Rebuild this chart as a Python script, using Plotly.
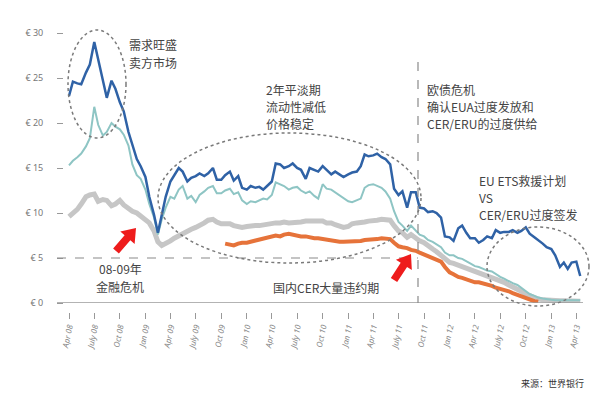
import math
import plotly.graph_objects as go

# ---------------- data ----------------
# semi-monthly observation dates, 2008-04-01 .. 2013-04-15
dates = []
for y in range(2008, 2014):
    for m in range(1, 13):
        if (y == 2008 and m < 4) or (y == 2013 and m > 4):
            continue
        for d in (1, 15):
            dates.append(f"{y}-{m:02d}-{d:02d}")

eua = [23.0, 24.6, 24.4, 24.3, 25.6, 26.5, 29.0, 27.0, 24.5, 22.8, 24.7, 23.8, 22.3, 21.3, 19.0, 17.6, 16.0, 15.2,
       14.0, 11.8, 9.8, 7.8, 10.0, 11.8, 13.5, 14.2, 15.0, 14.6, 13.5, 13.9, 14.1, 14.4, 14.1, 14.4, 15.0, 13.7, 13.7, 14.2, 14.6, 13.6, 14.1, 12.8,
       12.6, 13.0, 12.8, 12.9, 12.6, 13.0, 13.5, 15.5, 15.4, 15.0, 15.2, 15.5, 15.0, 14.8, 13.8, 15.0, 14.8, 14.6, 15.2, 14.8, 14.3, 14.6, 14.3, 14.0,
       14.3, 14.5, 14.6, 15.2, 16.5, 16.3, 16.4, 16.6, 16.2, 16.0, 15.4, 12.7, 12.0, 12.4, 10.6, 12.3, 12.3, 10.6, 10.5, 10.1, 10.2, 10.0, 9.5, 7.4,
       7.3, 6.9, 8.3, 8.6, 7.8, 7.2, 7.2, 6.7, 7.0, 7.4, 7.2, 8.1, 7.8, 7.9, 7.9, 8.1, 7.8, 8.0, 8.4, 7.7, 7.3, 7.0, 6.6, 6.2,
       6.0, 5.3, 4.0, 4.5, 3.8, 4.5, 4.6, 3.0]

scer = [15.3, 15.8, 16.2, 16.6, 17.4, 18.3, 21.8, 19.8, 18.6, 19.0, 20.0, 19.6, 19.3, 18.7, 17.5, 15.4, 14.2, 13.8,
        12.6, 11.0, 9.5, 7.6, 9.3, 10.6, 11.8, 11.6, 12.6, 13.0, 11.6, 11.9, 11.2, 12.0, 12.4, 12.8, 13.0, 12.2, 12.2, 12.5, 12.7, 12.1, 12.3, 11.4,
        11.0, 11.3, 11.2, 11.4, 11.6, 11.5, 12.0, 13.4, 13.2, 13.0, 12.6, 12.8, 12.9, 12.5, 12.2, 12.4, 11.9, 11.6, 13.2, 12.7, 12.6, 12.3, 11.9, 11.7,
        11.3, 11.2, 11.4, 11.6, 12.8, 13.1, 13.2, 13.0, 12.8, 12.4, 11.6, 10.2, 9.0, 8.6, 8.0, 8.6, 8.0, 7.6, 7.4, 7.0, 6.8, 6.5, 6.2, 5.6,
        5.3, 5.3, 5.0, 4.9, 4.6, 4.4, 4.1, 4.0, 3.8, 3.6, 3.5, 3.2, 2.9, 2.7, 2.4, 2.2, 2.0, 1.7, 1.4, 1.0, 0.8, 0.6, 0.5, 0.4,
        0.35, 0.3, 0.3, 0.3, 0.3, 0.25, 0.3, 0.3]

pcer = [9.6, 10.0, 10.4, 11.0, 11.8, 12.0, 12.1, 11.3, 11.5, 11.4, 10.8, 11.0, 11.4, 10.9, 10.5, 10.2, 10.0, 9.6,
        9.2, 8.9, 8.0, 6.8, 6.4, 6.6, 6.9, 7.2, 7.5, 7.7, 8.0, 8.2, 8.4, 8.6, 8.9, 9.2, 9.3, 9.0, 8.8, 8.8, 8.8, 8.6, 8.5, 8.4,
        8.5, 8.6, 8.6, 8.6, 8.7, 8.7, 8.8, 8.9, 8.9, 9.0, 8.9, 8.9, 8.9, 9.0, 9.1, 9.1, 9.2, 9.2, 9.1, 8.9, 8.9, 8.7, 8.6, 8.4,
        8.5, 8.8, 8.9, 8.9, 9.0, 9.1, 9.1, 9.2, 9.3, 9.3, 9.2, 8.6, 8.0, 7.8, 7.3, 7.6, 7.2, 6.9, 6.7, 6.3, 6.0, 5.7, 5.3, 4.8,
        4.5, 4.4, 4.2, 4.1, 3.9, 3.7, 3.5, 3.4, 3.2, 3.0, 2.9, 2.7, 2.5, 2.3, 2.0, 1.8, 1.6, 1.3, 1.0, 0.8, 0.6, 0.45, 0.35, 0.3,
        0.3, 0.28, 0.25, 0.25, 0.22, 0.2, 0.2, 0.2]

# domestic (China) CER series, 2009-10-15 .. 2012-11-15
cn_start = dates.index("2009-10-15")
cn_cer = [6.6, 6.5, 6.4, 6.6, 6.7,
          6.7, 6.8, 6.9, 7.0, 7.1, 7.2, 7.3, 7.5, 7.4, 7.6, 7.7, 7.6, 7.5, 7.4, 7.4, 7.3, 7.2, 7.2, 7.1, 7.1, 7.0, 6.9, 6.8, 6.8,
          6.8, 6.9, 6.9, 6.9, 7.0, 7.0, 7.1, 7.1, 7.2, 7.2, 7.1, 6.7, 6.3, 6.2, 6.1, 5.9, 5.8, 5.6, 5.4, 5.2, 5.0, 4.8, 4.6, 4.0,
          3.4, 3.2, 2.9, 2.8, 2.6, 2.5, 2.3, 2.3, 2.2, 2.0, 1.9, 1.7, 1.6, 1.5, 1.3, 1.1, 0.9, 0.7, 0.5, 0.3, 0.2, 0.15]
cn_dates = dates[cn_start:cn_start + len(cn_cer)]

tick_dates = [f"{y}-{m:02d}-01" for y in range(2008, 2014) for m in (1, 4, 7, 10)
              if "2008-04-01" <= f"{y}-{m:02d}-01" <= "2013-04-01"]
tick_text = [("July" if d[5:7] == "07" else {"01": "Jan", "04": "Apr", "10": "Oct"}[d[5:7]]) + " " + d[2:4]
             for d in tick_dates]
y_ticks = [0, 5, 10, 15, 20, 25, 30]
y_text = [f"€ {v}" for v in y_ticks]

# ---------------- figure ----------------
W, H = 604, 399
L, R, T, B = 64, 21, 33, 87
PW, PH = W - L - R, H - T - B


def px(x):
    return (x - L) / PW


def py(y):
    return (H - B - y) / PH


fig = go.Figure()
fig.add_trace(go.Scatter(x=dates, y=pcer, mode="lines",
                         line=dict(color="#C6C6C6", width=5), hoverinfo="skip"))
fig.add_trace(go.Scatter(x=cn_dates, y=cn_cer, mode="lines",
                         line=dict(color="#E6733A", width=4), hoverinfo="skip"))
fig.add_trace(go.Scatter(x=dates, y=scer, mode="lines",
                         line=dict(color="#8EC5C4", width=2), hoverinfo="skip"))
fig.add_trace(go.Scatter(x=dates, y=eua, mode="lines",
                         line=dict(color="#2F62A6", width=2.5), hoverinfo="skip"))

ydom0 = py(303)
fig.update_layout(
    width=W, height=H, margin=dict(l=L, r=R, t=T, b=B),
    paper_bgcolor="white", plot_bgcolor="white", showlegend=False,
    font=dict(family="Noto Sans CJK SC, Noto Sans, sans-serif", color="#444"),
    xaxis=dict(type="date", range=["2008-03-14", "2013-04-25"], anchor="free", position=0,
               showgrid=False, zeroline=False, showline=False,
               tickmode="array", tickvals=tick_dates, ticktext=tick_text,
               ticks="outside", ticklen=6, tickcolor="#999", tickwidth=1,
               tickangle=-78, tickfont=dict(size=8, color="#888", style="italic",
                                             family="Noto Sans")),
    yaxis=dict(range=[0, 30], domain=[ydom0, 1], showgrid=False, zeroline=False, showline=False,
               tickmode="array", tickvals=y_ticks, ticktext=y_text,
               ticks="outside", ticklen=6, tickcolor="#999", tickwidth=1, ticklabelstandoff=12,
               tickfont=dict(size=9, color="#777", family="Noto Sans")),
)


def arrow_path(tx, ty, hx, hy, sw=3.8, hw=9.5, hl=13):
    dx, dy = hx - tx, hy - ty
    ln = math.hypot(dx, dy)
    ux, uy = dx / ln, dy / ln
    nx, ny = -uy, ux
    bx, by = hx - ux * hl, hy - uy * hl
    pts = [(tx + nx * sw, ty + ny * sw), (bx + nx * sw, by + ny * sw), (bx + nx * hw, by + ny * hw),
           (hx, hy), (bx - nx * hw, by - ny * hw), (bx - nx * sw, by - ny * sw), (tx - nx * sw, ty - ny * sw)]
    return "M " + " L ".join(f"{px(x):.5f},{py(y):.5f}" for x, y in pts) + " Z"


shapes = [
    # baseline
    dict(type="line", xref="paper", yref="y", x0=px(57), x1=1, y0=0, y1=0,
         line=dict(color="#9A9A9A", width=1.5)),
    # €5 dashed line
    dict(type="line", xref="paper", yref="y", x0=px(57), x1=px(418), y0=5, y1=5,
         line=dict(color="#8A8A8A", width=1.2, dash="dash")),
    # vertical dashed line
    dict(type="line", xref="paper", yref="paper", x0=px(418), x1=px(418), y0=py(62), y1=py(303),
         line=dict(color="#8A8A8A", width=1.2, dash="dash")),
    # dotted ellipses
    dict(type="circle", xref="paper", yref="paper", x0=px(68), x1=px(126), y0=py(138), y1=py(30),
         line=dict(color="#7A7A7A", width=1.5, dash="dot")),
    dict(type="circle", xref="paper", yref="paper", x0=px(158), x1=px(421), y0=py(263), y1=py(133),
         line=dict(color="#7A7A7A", width=1.5, dash="dot")),
    dict(type="circle", xref="paper", yref="paper", x0=px(487), x1=px(589), y0=py(306), y1=py(227),
         line=dict(color="#7A7A7A", width=1.5, dash="dot")),
    # red arrows
    dict(type="path", xref="paper", yref="paper", path=arrow_path(116, 251, 136, 228),
         fillcolor="#EE1C1C", line=dict(width=0)),
    dict(type="path", xref="paper", yref="paper", path=arrow_path(394, 280, 411, 254),
         fillcolor="#EE1C1C", line=dict(width=0)),
]
fig.update_layout(shapes=shapes)

txt = dict(size=12, color="#444", family="Noto Sans CJK SC")
lines = [
    (128, [44.5, 62], ["需求旺盛", "卖方市场"], "left"),
    (265, [89, 106.5, 124], ["2年平淡期", "流动性减低", "价格稳定"], "left"),
    (426, [89, 106.5, 124], ["欧债危机", "确认EUA过度发放和", "CER/ERU的过度供给"], "left"),
    (478, [180, 197.5, 215], ["EU ETS救援计划", "VS", "CER/ERU过度签发"], "left"),
    (120, [268, 286], ["08-09年", "金融危机"], "center"),
    (272, [287], ["国内CER大量违约期"], "left"),
]
annotations = []
for x0, ys, texts, anchor in lines:
    for yy, t in zip(ys, texts):
        annotations.append(dict(x=px(x0), y=py(yy), xref="paper", yref="paper", text=t,
                                showarrow=False, xanchor=anchor, yanchor="middle",
                                borderpad=0, font=txt))
annotations.append(dict(x=px(585), y=py(383), xref="paper", yref="paper", text="来源：世界银行",
                        showarrow=False, xanchor="right", yanchor="middle", borderpad=0,
                        font=dict(size=9, color="#333", family="Noto Sans CJK SC")))
fig.update_layout(annotations=annotations)

fig.write_html("out.html")
